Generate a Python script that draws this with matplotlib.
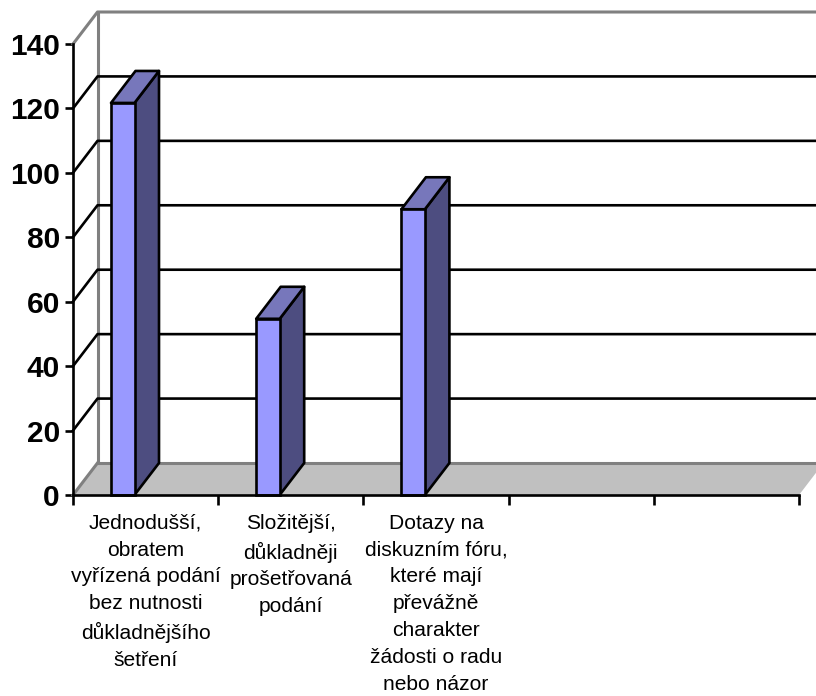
import matplotlib
matplotlib.use("Agg")
import matplotlib.pyplot as plt
from matplotlib.patches import Polygon, Rectangle

plt.rcParams['font.family'] = ['Liberation Sans', 'DejaVu Sans']

# Data
categories = [
    "Jednodušší,\nobratem\nvyřízená podání\nbez nutnosti\ndůkladnějšího\nšetření",
    "Složitější,\ndůkladněji\nprošetřovaná\npodání",
    "Dotazy na\ndiskuzním fóru,\nkteré mají\npřevážně\ncharakter\nžádosti o radu\nnebo názor",
    "",
    "",
]
values = [121.7, 54.7, 88.7]
y_ticks = [0, 20, 40, 60, 80, 100, 120, 140]

# Pixel scale of the front plane
cat_px = 145.2
unit_px = 451 / 140
x0_px, y0_px = 73, 495

# 3D look: shift of the back plane, in data units
dx = 24.5 / cat_px
dy = 32 / unit_px
bar_left = 38 / cat_px
bar_w = 23.5 / cat_px

GRAY = '#808080'
FRONT = '#9999FF'
TOP = '#7777BB'
SIDE = '#4D4D80'

fig = plt.figure(figsize=(8.16, 6.96), dpi=100)
ax = fig.add_axes([0, 0, 1, 1])
ax.set_xlim(-x0_px / cat_px, (816 - x0_px) / cat_px)
ax.set_ylim((y0_px - 696) / unit_px, y0_px / unit_px)

n = len(categories)
right = ax.get_xlim()[1]
lw = 1.9
lw_gray = 2.2

# floor
ax.add_patch(Polygon([(0, 0), (n, 0), (n + dx, dy), (dx, dy)], fc='#C0C0C0', ec='none', zorder=1))
ax.plot([0, dx], [0, dy], color=GRAY, lw=lw_gray, zorder=2)
ax.plot([dx, right], [dy, dy], color=GRAY, lw=lw_gray, zorder=2)

# walls
ax.plot([dx, dx], [dy, 140 + dy], color=GRAY, lw=lw_gray, zorder=2)
ax.plot([0, dx, right], [140, 140 + dy, 140 + dy], color=GRAY, lw=lw_gray, zorder=2)

# gridlines
for v in y_ticks[1:-1]:
    ax.plot([0, dx, right], [v, v + dy, v + dy], color='black', lw=lw, zorder=2)

# bars
for i, v in enumerate(values):
    x = i + bar_left
    ax.add_patch(Polygon([(x + bar_w, 0), (x + bar_w + dx, dy), (x + bar_w + dx, v + dy), (x + bar_w, v)],
                         fc=SIDE, ec='black', lw=lw, zorder=3, joinstyle='round'))
    ax.add_patch(Polygon([(x, v), (x + bar_w, v), (x + bar_w + dx, v + dy), (x + dx, v + dy)],
                         fc=TOP, ec='black', lw=lw, zorder=3, joinstyle='round'))
    ax.add_patch(Rectangle((x, 0), bar_w, v, fc=FRONT, ec='black', lw=lw, zorder=4))

# axes
for s in ['top', 'right']:
    ax.spines[s].set_visible(False)
ax.spines['left'].set_position(('data', 0))
ax.spines['left'].set_bounds(0, 140)
ax.spines['bottom'].set_position(('data', 0))
ax.spines['bottom'].set_bounds(0, n)
ax.spines['left'].set_linewidth(lw)
ax.spines['bottom'].set_linewidth(lw)
ax.spines['left'].set_zorder(5)
ax.spines['bottom'].set_zorder(5)

ax.set_yticks(y_ticks)
ax.set_yticklabels([str(v) for v in y_ticks], fontsize=21.5, fontweight='bold')
ax.tick_params(axis='y', length=6, width=lw, pad=3.5)

ax.set_xticks(range(n + 1))
ax.set_xticklabels([])
ax.tick_params(axis='x', which='major', length=7.5, width=lw)
ax.set_xticks([i + 0.5 for i in range(n)], minor=True)
ax.set_xticklabels(categories, minor=True, fontsize=15.1, linespacing=1.52)
ax.tick_params(axis='x', which='minor', length=0, pad=13.5)

fig.savefig('out.png', dpi=100)
